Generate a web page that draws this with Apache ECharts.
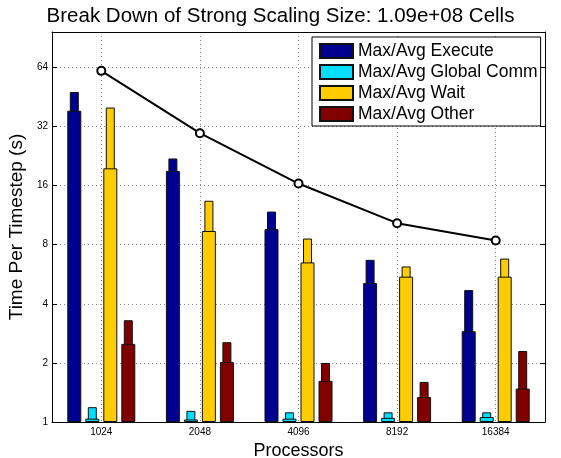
<!DOCTYPE html>
<html>
<head>
<meta charset="utf-8">
<script src="https://cdn.jsdelivr.net/npm/echarts@6/dist/echarts.min.js"></script>
<style>
  html, body { margin: 0; padding: 0; background: #fff; }
  #chart { width: 561px; height: 458px; }
</style>
</head>
<body>
<div id="chart"></div>
<script>
// Processor counts along the x axis
const processors = ['1024', '2048', '4096', '8192', '16384'];

// Time per timestep (s): average and maximum for each phase
const executeAvg = [38.5, 19.0, 9.6, 5.1, 2.9];
const executeMax = [48.0, 22.0, 11.8, 6.7, 4.7];
const commAvg    = [1.04, 1.03, 1.04, 1.05, 1.06];
const commMax    = [1.19, 1.14, 1.12, 1.12, 1.12];
const waitAvg    = [19.6, 9.4, 6.5, 5.5, 5.5];
const waitMax    = [40.0, 13.4, 8.6, 6.2, 6.8];
const otherAvg   = [2.5, 2.02, 1.62, 1.34, 1.48];
const otherMax   = [3.3, 2.55, 2.0, 1.6, 2.3];

// Total time per timestep
const totalTime  = [61.5, 29.6, 16.4, 10.3, 8.4];

// Phase names shown in the legend
const phaseNames = ['Max/Avg Execute', 'Max/Avg Global Comm', 'Max/Avg Wait', 'Max/Avg Other'];
const phaseColors = ['#000090', '#00DFFF', '#FFCC00', '#800000'];

const FONT = '"Liberation Sans", Arial, Helvetica, sans-serif';
const dotted = { color: '#8a8a8a', width: 1, type: [1, 3] };

const avgData = [executeAvg, commAvg, waitAvg, otherAvg];
const maxData = [executeMax, commMax, waitMax, otherMax];

const series = [];
// Narrow bars for the maximum, drawn behind
maxData.forEach((d, i) => {
  series.push({
    type: 'bar', name: phaseNames[i], xAxisIndex: 1, yAxisIndex: 0,
    data: d, barWidth: 9, barGap: '100%', z: 2,
    itemStyle: { color: phaseColors[i], borderColor: '#111', borderWidth: 1 }
  });
});
// Wide bars for the average, drawn in front
avgData.forEach((d, i) => {
  series.push({
    type: 'bar', name: phaseNames[i], xAxisIndex: 0, yAxisIndex: 0,
    data: d, barWidth: 14, barGap: '28.6%', z: 3,
    itemStyle: { color: phaseColors[i], borderColor: '#111', borderWidth: 1 }
  });
});
series.push({
  type: 'line', name: 'Total', xAxisIndex: 0, yAxisIndex: 0,
  data: totalTime, symbol: 'emptyCircle', symbolSize: 8, z: 5,
  lineStyle: { color: '#000', width: 2 },
  itemStyle: { color: '#000', borderColor: '#000', borderWidth: 1.5 }
});

const yLog = {
  type: 'log', logBase: 2, min: 1, max: 97, interval: 1
};

const option = {
  animation: false,
  backgroundColor: '#fff',
  title: {
    text: 'Break Down of Strong Scaling Size: 1.09e+08 Cells',
    left: 'center', top: 1,
    textStyle: { fontFamily: FONT, fontSize: 20.5, fontWeight: 'normal', color: '#000' }
  },
  legend: {
    data: phaseNames,
    icon: 'rect',
    orient: 'vertical',
    left: 312, top: 37,
    itemWidth: 33, itemHeight: 14, itemGap: 3,
    padding: [5, 3, 3, 7],
    backgroundColor: '#fff',
    borderColor: '#000', borderWidth: 1,
    selectedMode: false,
    textStyle: { fontFamily: FONT, fontSize: 17.5, lineHeight: 17, color: '#000' }
  },
  grid: { left: 52, right: 16, top: 32, bottom: 36, outerBoundsMode: 'none', containLabel: false },
  xAxis: [
    {
      type: 'category', data: processors, position: 'bottom',
      name: 'Processors', nameLocation: 'middle', nameGap: 12,
      nameTextStyle: { fontFamily: FONT, fontSize: 18, color: '#000' },
      axisLine: { lineStyle: { color: '#000', width: 1 } },
      axisTick: { inside: true, alignWithLabel: true, length: 5, lineStyle: { color: '#000' } },
      axisLabel: { fontFamily: FONT, fontSize: 10, color: '#000', margin: 5 },
      splitLine: { show: true, alignWithLabel: true, lineStyle: dotted }
    },
    {
      type: 'category', data: processors, show: false
    },
    {
      type: 'category', data: processors, position: 'top',
      axisLine: { lineStyle: { color: '#000', width: 1 } },
      axisTick: { inside: true, alignWithLabel: true, length: 5, lineStyle: { color: '#000' } },
      axisLabel: { show: false },
      splitLine: { show: false }
    }
  ],
  yAxis: [
    Object.assign({}, yLog, {
      position: 'left',
      name: 'Time Per Timestep (s)', nameLocation: 'middle', nameGap: 18,
      nameTextStyle: { fontFamily: FONT, fontSize: 19, color: '#000' },
      axisLine: { show: true, lineStyle: { color: '#000', width: 1 } },
      axisTick: { show: true, inside: true, length: 5, lineStyle: { color: '#000' } },
      axisLabel: { fontFamily: FONT, fontSize: 10, color: '#000', margin: 4, showMaxLabel: false,
                   formatter: v => String(Math.round(v)) },
      splitLine: { show: true, lineStyle: dotted },
      minorTick: { show: false }
    }),
    Object.assign({}, yLog, {
      position: 'right',
      axisLine: { show: true, lineStyle: { color: '#000', width: 1 } },
      axisTick: { show: true, inside: true, length: 5, lineStyle: { color: '#000' } },
      axisLabel: { show: false },
      splitLine: { show: false }
    })
  ],
  series: series
};

const chart = echarts.init(document.getElementById('chart'), null, { renderer: 'canvas' });
chart.setOption(option);
</script>
</body>
</html>
